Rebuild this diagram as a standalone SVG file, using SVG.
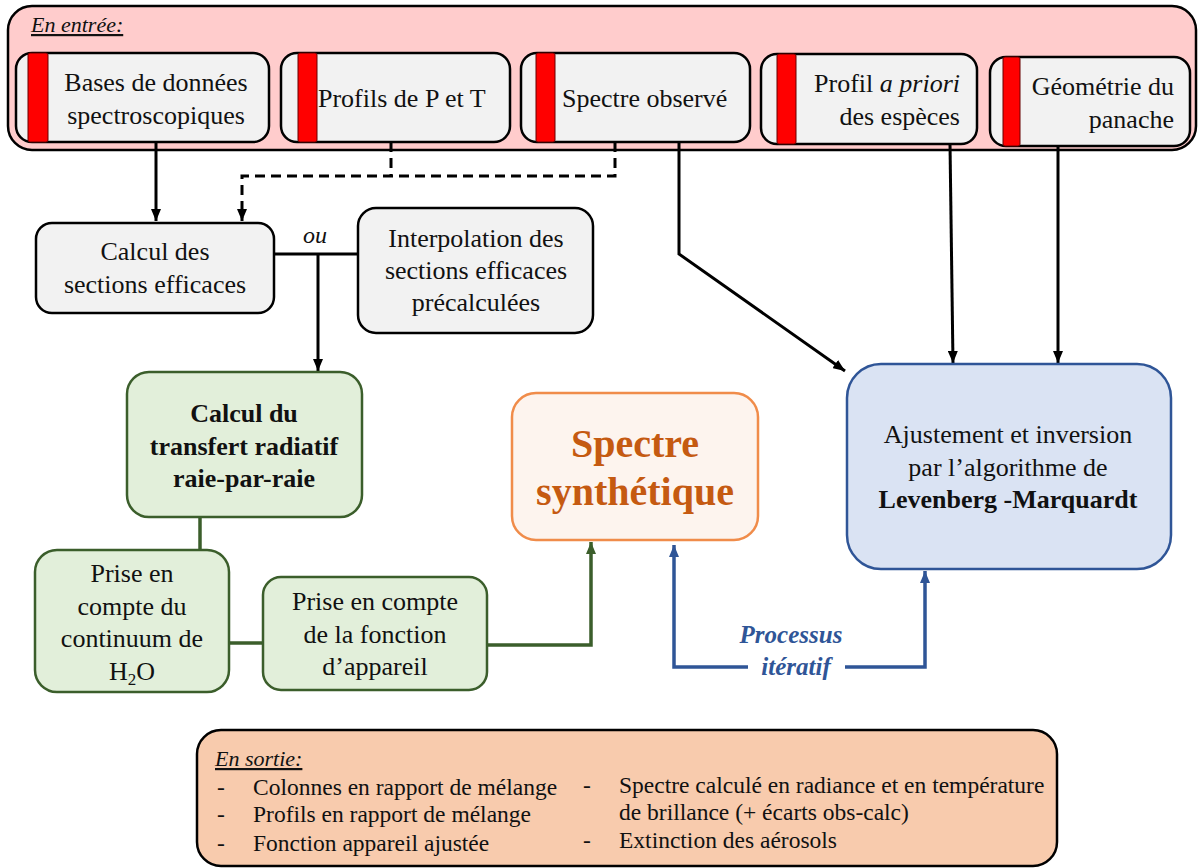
<svg xmlns="http://www.w3.org/2000/svg" width="1201" height="868" viewBox="0 0 1201 868" font-family="'Liberation Serif', 'DejaVu Serif', 'Noto Serif', Tinos, 'Times New Roman', serif">
<defs>
<style>
text{font-family:'Liberation Serif','DejaVu Serif','Noto Serif',Tinos,'Times New Roman',serif;fill:#111;}
.t{font-size:26px;text-anchor:middle;}
.te{font-size:26px;text-anchor:end;}
.b{font-weight:bold;}
.in{fill:#f2f2f2;stroke:#000;stroke-width:2.5;}
.red{fill:#ff0000;stroke:#600;stroke-width:1;}
.gr{fill:#e2efda;stroke:#3b5e2b;stroke-width:2.5;}
.lst{font-size:23.5px;}
.k{fill:none;stroke:#000;stroke-width:3;}
.g{fill:none;stroke:#3b5e2b;stroke-width:3.5;}
.bl{fill:none;stroke:#2f5597;stroke-width:3.5;}
</style>
<marker id="ak" viewBox="0 0 12 10" refX="12" refY="5" markerWidth="12" markerHeight="10" markerUnits="userSpaceOnUse" orient="auto"><path d="M0,0 L12,5 L0,10 z" fill="#000"/></marker>
<marker id="ag" viewBox="0 0 12 10" refX="12" refY="5" markerWidth="12" markerHeight="10" markerUnits="userSpaceOnUse" orient="auto"><path d="M0,0 L12,5 L0,10 z" fill="#3b5e2b"/></marker>
<marker id="ab" viewBox="0 0 12 10" refX="12" refY="5" markerWidth="12" markerHeight="10" markerUnits="userSpaceOnUse" orient="auto"><path d="M0,0 L12,5 L0,10 z" fill="#2f5597"/></marker>
</defs>
<rect width="1201" height="868" fill="#fff"/>

<g id="entree">
<rect x="8" y="6" width="1188" height="144" rx="24" fill="#ffcccc" stroke="#000" stroke-width="2.5"/>
<text x="31" y="32" style="font-size:22px;font-style:italic;text-decoration:underline">En entrée:</text>
</g>

<g id="bases">
<rect class="in" x="16" y="53" width="253" height="89" rx="16"/>
<rect class="red" x="28" y="53" width="20" height="89" rx="2"/>
<text class="t" x="156" y="91">Bases de données</text>
<text class="t" x="156" y="124">spectroscopiques</text>
</g>
<g id="profils">
<rect class="in" x="281" y="53" width="229" height="89" rx="16"/>
<rect class="red" x="298" y="53" width="19" height="89" rx="2"/>
<text x="318" y="107" style="font-size:26px">Profils de P et T</text>
</g>
<g id="spectre-obs">
<rect class="in" x="521" y="53" width="229" height="89" rx="16"/>
<rect class="red" x="536" y="53" width="19" height="89" rx="2"/>
<text x="562" y="107" style="font-size:26px">Spectre observé</text>
</g>
<g id="profil-apriori">
<rect class="in" x="761" y="54" width="216" height="90" rx="16"/>
<rect class="red" x="777" y="54" width="19" height="90" rx="2"/>
<text class="te" x="960" y="92">Profil <tspan font-style="italic">a priori</tspan></text>
<text class="te" x="960" y="125">des espèces</text>
</g>
<g id="geometrie">
<rect class="in" x="990" y="57" width="200" height="89" rx="16"/>
<rect class="red" x="1003" y="57" width="17" height="89" rx="2"/>
<text class="te" x="1174" y="95">Géométrie du</text>
<text class="te" x="1174" y="128">panache</text>
</g>

<g id="connecteurs">
<path class="k" d="M156,142 V221" marker-end="url(#ak)"/>
<path class="k" d="M391,142 V176 M615,142 V176 H242 V221" stroke-dasharray="10,6" marker-end="url(#ak)"/>
<path class="k" d="M679,142 V254 L845,371" marker-end="url(#ak)"/>
<path class="k" d="M950,144 L953,363" marker-end="url(#ak)"/>
<path class="k" d="M1058,146 V363" marker-end="url(#ak)"/>
<path class="k" d="M274,254 H358"/>
<path class="k" d="M318,254 V371" marker-end="url(#ak)"/>
<path class="g" d="M200,517 V550"/>
<path class="g" d="M229,643 H263"/>
<path class="g" d="M487,645 H591 V542" marker-end="url(#ag)"/>
<path class="bl" d="M748,667 H674 V545" marker-end="url(#ab)"/>
<path class="bl" d="M845,667 H925 V571" marker-end="url(#ab)"/>
<text x="315" y="243" style="font-size:24px;font-style:italic;text-anchor:middle">ou</text>
<text x="791" y="643" style="font-size:25px;font-style:italic;font-weight:bold;text-anchor:middle;fill:#2f5597">Processus</text>
<text x="796" y="675" style="font-size:25px;font-style:italic;font-weight:bold;text-anchor:middle;fill:#2f5597">itératif</text>
</g>

<g id="calcul-sections">
<rect class="in" x="36" y="223" width="238" height="90" rx="16"/>
<text class="t" x="155" y="260">Calcul des</text>
<text class="t" x="155" y="293">sections efficaces</text>
</g>
<g id="interpolation">
<rect class="in" x="358" y="208" width="235" height="125" rx="18"/>
<text class="t" x="476" y="247">Interpolation des</text>
<text class="t" x="476" y="279">sections efficaces</text>
<text class="t" x="476" y="311">précalculées</text>
</g>

<g id="transfert">
<rect class="gr" x="127" y="372" width="235" height="145" rx="22"/>
<text class="t b" x="244" y="422">Calcul du</text>
<text class="t b" x="244" y="455">transfert radiatif</text>
<text class="t b" x="244" y="487">raie-par-raie</text>
</g>
<g id="continuum">
<rect class="gr" x="35" y="550" width="194" height="142" rx="22"/>
<text class="t" x="132" y="582">Prise en</text>
<text class="t" x="132" y="615">compte du</text>
<text class="t" x="132" y="647">continuum de</text>
<text class="t" x="132" y="680">H<tspan font-size="17" dy="5">2</tspan><tspan dy="-5">O</tspan></text>
</g>
<g id="fonction">
<rect class="gr" x="263" y="577" width="224" height="113" rx="18"/>
<text class="t" x="375" y="610">Prise en compte</text>
<text class="t" x="375" y="643">de la fonction</text>
<text class="t" x="375" y="675">d’appareil</text>
</g>

<g id="spectre-synth">
<rect x="512" y="393" width="246" height="147" rx="24" fill="#fdf4ee" stroke="#f08c4a" stroke-width="2.5"/>
<text class="b" x="635" y="457" style="font-size:40px;text-anchor:middle;fill:#c55a11">Spectre</text>
<text class="b" x="635" y="505" style="font-size:40px;text-anchor:middle;fill:#c55a11">synthétique</text>
</g>

<g id="ajustement">
<rect x="847" y="364" width="324" height="205" rx="34" fill="#dae3f3" stroke="#2f5597" stroke-width="2.5"/>
<text class="t" x="1008" y="443">Ajustement et inversion</text>
<text class="t" x="1008" y="476">par l’algorithme de</text>
<text class="t b" x="1008" y="508">Levenberg -Marquardt</text>
</g>

<g id="sortie">
<rect x="197" y="730" width="860" height="136" rx="24" fill="#f8cbad" stroke="#000" stroke-width="2.5"/>
<text x="215" y="766" style="font-size:22px;font-style:italic;text-decoration:underline">En sortie:</text>
<text class="lst" x="217" y="795">-</text>
<text class="lst" x="253" y="795">Colonnes en rapport de mélange</text>
<text class="lst" x="217" y="822">-</text>
<text class="lst" x="253" y="822">Profils en rapport de mélange</text>
<text class="lst" x="217" y="851">-</text>
<text class="lst" x="253" y="851">Fonction appareil ajustée</text>
<text class="lst" x="583" y="793">-</text>
<text class="lst" x="619" y="793">Spectre calculé en radiance et en température</text>
<text class="lst" x="619" y="820">de brillance (+ écarts obs-calc)</text>
<text class="lst" x="583" y="848">-</text>
<text class="lst" x="619" y="848">Extinction des aérosols</text>
</g>
</svg>
